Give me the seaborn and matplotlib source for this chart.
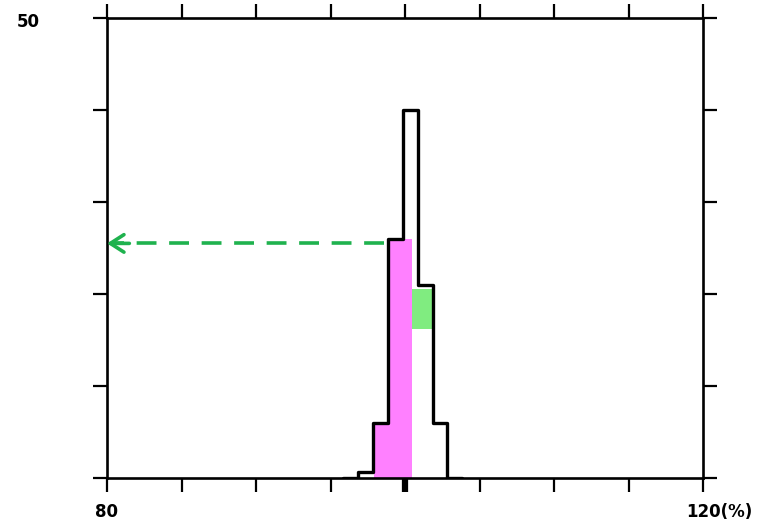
import matplotlib
matplotlib.use("Agg")
import matplotlib.pyplot as plt
import seaborn as sns

# histogram (outline), bins of 1 %
bin_edges = [95.85, 96.85, 97.85, 98.85, 99.85, 100.85, 101.85, 102.85, 103.85]
bin_centers = [96.35, 97.35, 98.35, 99.35, 100.35, 101.35, 102.35, 103.35]
bin_counts = [0, 0.6, 6, 26, 40, 21, 6, 0]

# pink highlighted part (hand drawn)
pink_x = [97.95, 98.95, 100.45]
pink_y = [6, 26, 26]

# green box
green_x = [100.45, 101.8]
green_y = [16.2, 20.5]

# dashed arrow
arrow_y = 25.5
arrow_x = [98.6, 80.3]

x_ticks = [80, 85, 90, 95, 100, 105, 110, 115, 120]
y_ticks = [0, 10, 20, 30, 40, 50]

sns.set_style("ticks")
plt.rcParams["font.family"] = ["DejaVu Sans"]
plt.rcParams["text.color"] = "black"

fig = plt.figure(figsize=(7.68, 5.22), dpi=100)
ax = fig.add_axes([107 / 768, 44 / 522, 596 / 768, 460 / 522])

ax.fill_between(pink_x, pink_y, 0, step="post", color="#ff80ff", lw=0, zorder=1)
ax.fill_between(green_x, green_y[0], green_y[1], color="#80ec80", lw=0, zorder=1)

sns.histplot(x=bin_centers, weights=bin_counts, bins=bin_edges, element="step",
             fill=False, color="black", linewidth=2.4, ax=ax, zorder=2)

ax.plot(arrow_x, [arrow_y, arrow_y], color="#1fb24e", lw=2.6, dashes=(5.5, 3.5), zorder=3)
ax.annotate("", xy=(80, arrow_y), xytext=(81.5, arrow_y),
            arrowprops=dict(arrowstyle="->, head_length=0.7, head_width=0.45",
                            color="#1fb24e", lw=2.6, mutation_scale=14, shrinkA=0, shrinkB=0),
            zorder=3, annotation_clip=False)

ax.set_xlim(80, 120)
ax.set_ylim(0, 50)
ax.set_xticks(x_ticks)
ax.set_yticks(y_ticks)
ax.set_xticklabels([])
ax.set_yticklabels([])
ax.set_xlabel("")
ax.set_ylabel("")
ax.tick_params(axis="both", which="both", direction="out", length=10, width=1.6,
               top=True, right=True, color="black")
for s in ax.spines.values():
    s.set_linewidth(1.9)
    s.set_color("black")
ax.xaxis.get_major_ticks()[4].tick1line.set_markeredgewidth(4.5)

ax.annotate("80", xy=(80, 0), xycoords=ax.get_xaxis_transform(), xytext=(0, -34),
            textcoords="offset pixels", ha="center", va="center", color="black",
            fontsize=12, fontweight="bold", annotation_clip=False)
ax.annotate("120(%)", xy=(120, 0), xycoords=ax.get_xaxis_transform(), xytext=(16, -34),
            textcoords="offset pixels", ha="center", va="center", color="black",
            fontsize=12, fontweight="bold", annotation_clip=False)
ax.annotate("50", xy=(0, 50), xycoords=ax.get_yaxis_transform(), xytext=(-79, -4),
            textcoords="offset pixels", ha="center", va="center", color="black",
            fontsize=12, fontweight="bold", annotation_clip=False)

fig.savefig("out.png", dpi=100, facecolor="white")
